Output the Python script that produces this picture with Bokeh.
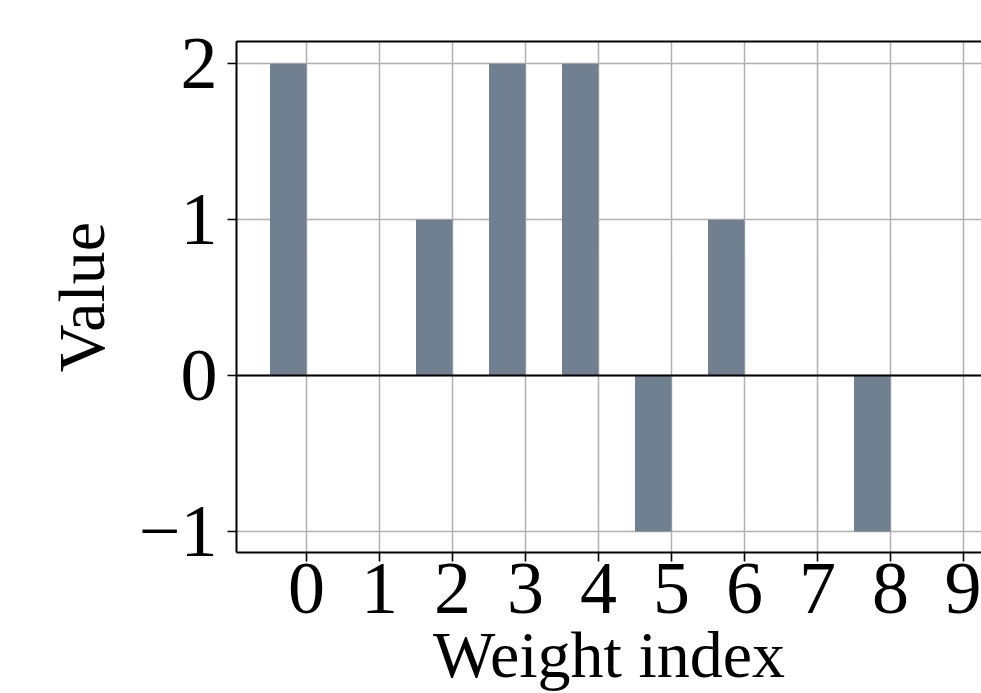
from bokeh.plotting import figure
from bokeh.models import FixedTicker, LinearAxis, Span, Range1d, ColumnDataSource
from bokeh.transform import dodge
from bokeh.embed import file_html
from bokeh.resources import INLINE

# ---- data ----
weight_index = [0, 1, 2, 3, 4, 5, 6, 7, 8, 9]
values = [2, 0, 1, 2, 2, -1, 1, 0, -1, 0]
x_ticks = [0, 1, 2, 3, 4, 5, 6, 7, 8, 9]
y_ticks = [-1, 0, 1, 2]
y_tick_labels = ["\u22121", "0", "1", "2"]
x_label = "Weight index"
y_label = "Value"

FONT = "Liberation Serif"
BAR_COLOR = "#708090"
GRID_COLOR = "#b0b0b0"

src = ColumnDataSource(dict(x=weight_index, top=values))

p = figure(width=981, height=693, output_backend="svg", toolbar_location=None,
           x_range=Range1d(-0.959, 9.247), y_range=Range1d(-1.135, 2.143),
           min_border_left=236, min_border_right=0, min_border_top=41,
           min_border_bottom=141, outline_line_color=None,
           background_fill_color="white", border_fill_color="white")

p.vbar(x=dodge("x", -0.25, range=p.x_range), top="top", bottom=0, width=0.5,
       source=src, fill_color=BAR_COLOR, line_color=None)

p.add_layout(Span(location=0, dimension="width", line_color="black", line_width=2))

# axes styling
for ax in (p.xaxis[0], p.yaxis[0]):
    ax.axis_line_color = "black"
    ax.axis_line_width = 2
    ax.major_tick_line_color = "black"
    ax.major_tick_line_width = 1.6
    ax.major_tick_out = 9
    ax.major_tick_in = 0
    ax.minor_tick_line_color = None
    ax.major_label_text_font = FONT
    ax.major_label_text_font_size = "74px"
    ax.major_label_text_color = "black"
    ax.axis_label_text_font = FONT
    ax.axis_label_text_font_size = "66px"
    ax.axis_label_text_font_style = "normal"
    ax.axis_label_text_color = "black"

p.xaxis[0].ticker = FixedTicker(ticks=x_ticks)
p.xaxis[0].major_label_standoff = 2
p.xaxis[0].axis_label = x_label
p.xaxis[0].axis_label_standoff = 2

p.yaxis[0].ticker = FixedTicker(ticks=y_ticks)
p.yaxis[0].major_label_overrides = {t: l for t, l in zip(y_ticks, y_tick_labels)}
p.yaxis[0].major_label_standoff = 10
p.yaxis[0].axis_label = y_label
p.yaxis[0].axis_label_standoff = 18

# top spine only (no ticks, no labels)
top_axis = LinearAxis(ticker=FixedTicker(ticks=[]), axis_line_color="black",
                      axis_line_width=2, major_tick_line_color=None,
                      minor_tick_line_color=None, major_label_standoff=0)
p.add_layout(top_axis, "above")

p.xgrid.ticker = FixedTicker(ticks=x_ticks)
p.ygrid.ticker = FixedTicker(ticks=y_ticks)
for g in (p.xgrid[0], p.ygrid[0]):
    g.grid_line_color = GRID_COLOR
    g.grid_line_width = 1.5

open("out.html", "w").write(file_html(p, INLINE))
